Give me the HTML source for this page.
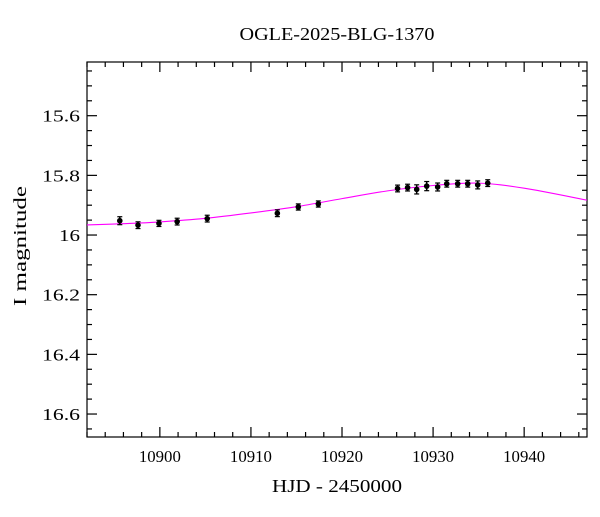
<!DOCTYPE html>
<html><head><meta charset="utf-8"><style>
html,body{margin:0;padding:0;background:#fff;}
svg text{font-family:"Liberation Serif",serif;fill:#000;}
</style></head><body>
<svg id="chart" width="600" height="512" viewBox="0 0 600 512" xmlns="http://www.w3.org/2000/svg">
<text x="337" y="40" font-size="18" text-anchor="middle" textLength="195" lengthAdjust="spacingAndGlyphs">OGLE-2025-BLG-1370</text>
<text x="337" y="492" font-size="18" text-anchor="middle" textLength="130" lengthAdjust="spacingAndGlyphs">HJD - 2450000</text>
<text x="0" y="0" font-size="18" text-anchor="middle" textLength="120" lengthAdjust="spacingAndGlyphs" transform="translate(26,246) rotate(-90)">I magnitude</text>
<g id="plot"></g>
</svg>
<script>
const obsHJD = [10895.6,10897.6,10899.9,10901.9,10905.2,10912.9,10915.2,10917.4,10926.1,10927.2,10928.2,10929.3,10930.5,10931.5,10932.7,10933.8,10934.9,10936.0];
const obsMag = [15.952,15.967,15.961,15.955,15.945,15.927,15.906,15.896,15.844,15.841,15.847,15.836,15.839,15.828,15.828,15.828,15.832,15.826];
const obsErr = [0.010,0.008,0.007,0.008,0.008,0.008,0.007,0.007,0.008,0.008,0.012,0.012,0.010,0.008,0.008,0.008,0.010,0.008];
const modelHJD = [10892,10896,10900,10905,10910,10915,10920,10925,10930,10935,10940,10946.9];
const modelMag = [15.966,15.962,15.956,15.944,15.926,15.905,15.878,15.852,15.834,15.826,15.843,15.883];
const xTicks = [10900,10910,10920,10930,10940];
const yTicks = [15.6,15.8,16,16.2,16.4,16.6];

const L=87,R=587,T=62,B=437;
const xMin=10892,xMax=10946.9,yMin=15.42,yMax=16.677;
const sx=v=>L+(v-xMin)/(xMax-xMin)*(R-L);
const sy=v=>T+(v-yMin)/(yMax-yMin)*(B-T);
const NS='http://www.w3.org/2000/svg';
const g=document.getElementById('plot');
function mk(tag,attrs){const e=document.createElementNS(NS,tag);for(const k in attrs)e.setAttribute(k,attrs[k]);g.appendChild(e);return e;}

let fr=mk('rect',{x:L,y:T,width:R-L,height:B-T,fill:'none',stroke:'#000','stroke-width':1.2});



for(let v=10892;v<=10946;v+=2){
  const x=sx(v);const major=(v%10===0);const len=major?10:5;
  const t1=mk('line',{x1:x,y1:B,x2:x,y2:B-len,stroke:'#000','stroke-width':1.2});
  
  
  const t2=mk('line',{x1:x,y1:T,x2:x,y2:T+len,stroke:'#000','stroke-width':1.2});
  
  
}
xTicks.forEach(v=>{
  const t=mk('text',{x:sx(v),y:B+25,'font-size':17,'text-anchor':'middle',textLength:42,lengthAdjust:'spacingAndGlyphs'});
  t.textContent=v;
  
  
});
for(let i=0;i<=25;i++){
  const v=15.45+i*0.05; if(v>yMax)break;
  const y=sy(v);const major=Math.abs(Math.round(v*5)-v*5)<1e-6;const len=major?10:5;
  const t1=mk('line',{x1:L,y1:y,x2:L+len,y2:y,stroke:'#000','stroke-width':1.2});
  
  
  const t2=mk('line',{x1:R,y1:y,x2:R-len,y2:y,stroke:'#000','stroke-width':1.2});
  
  
}
yTicks.forEach(v=>{
  const s=(Math.round(v*10)/10).toString();
  const t=mk('text',{x:L-7,y:sy(v)+6,'font-size':17,'text-anchor':'end',textLength:s.length>2?38:21,lengthAdjust:'spacingAndGlyphs'});
  t.textContent=s;
  
  
});

const pts=modelHJD.map((h,i)=>[sx(h),sy(modelMag[i])]);
let d='M'+pts[0][0]+','+pts[0][1];
for(let i=0;i<pts.length-1;i++){
  const p0=pts[i-1]||pts[i],p1=pts[i],p2=pts[i+1],p3=pts[i+2]||p2;
  const c1=[p1[0]+(p2[0]-p0[0])/6,p1[1]+(p2[1]-p0[1])/6];
  const c2=[p2[0]-(p3[0]-p1[0])/6,p2[1]-(p3[1]-p1[1])/6];
  d+=' C'+c1+' '+c2+' '+p2;
}
const clip=mk('clipPath',{id:'clp'});
const cr=document.createElementNS(NS,'rect');
cr.setAttribute('x',L);cr.setAttribute('y',T);cr.setAttribute('width',R-L);cr.setAttribute('height',B-T);
clip.appendChild(cr);
const curve=mk('path',{d:d,fill:'none',stroke:'#ff00ff','stroke-width':1.1,'clip-path':'url(#clp)'});



obsHJD.forEach((h,i)=>{
  const x=sx(h),y=sy(obsMag[i]),e=(obsErr[i])/(yMax-yMin)*(B-T);
  const eb=mk('line',{x1:x,y1:y-e-1,x2:x,y2:y+e+1,stroke:'#000','stroke-width':1.5});
  
  
  [y-e-1,y+e+1].forEach(yy=>{
    const c=mk('line',{x1:x-2.5,y1:yy,x2:x+2.5,y2:yy,stroke:'#000','stroke-width':1.2});
    
    
  });
  const p=mk('circle',{cx:x,cy:y,r:2.8,fill:'#000'});
  
  
});
</script>
</body></html>
